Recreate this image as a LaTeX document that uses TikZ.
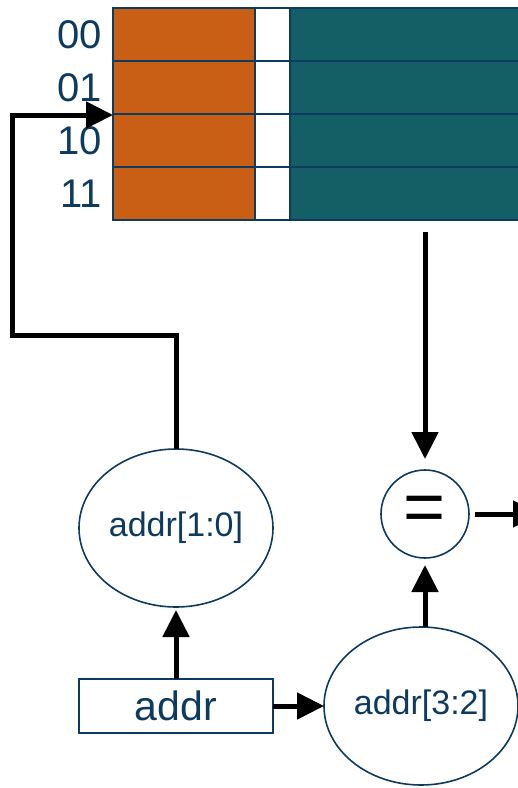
\documentclass[tikz,border=0pt]{standalone}
\usepackage{fontspec}
\setmainfont{Liberation Sans}
\usetikzlibrary{arrows.meta, shapes.geometric}
\definecolor{tagorange}{HTML}{C95E15}
\definecolor{datateal}{HTML}{145E66}
\definecolor{navy}{HTML}{0D3A5F}

\begin{document}
\begin{tikzpicture}[
    x=1pt, y=-1pt,
    cell_style/.style={draw=navy, line width=2pt},
    index_style/.style={anchor=east, inner sep=0pt, text=navy, font=\fontsize{40}{44}\selectfont},
    field_style/.style={ellipse, draw=navy, line width=1.6pt, minimum width=194pt, minimum height=158pt, inner sep=0pt, outer sep=0pt, text=navy, font=\fontsize{34}{40}\selectfont},
    addr_style/.style={rectangle, draw=navy, line width=1.6pt, minimum width=194pt, minimum height=54pt, inner sep=0pt, outer sep=0pt, text=navy, font=\fontsize{41}{44}\selectfont},
    cmp_style/.style={circle, draw=navy, line width=1.6pt, minimum size=88pt, inner sep=0pt, outer sep=0pt, font=\fontsize{72}{72}\selectfont},
    wire/.style={draw, line width=5pt, black, -{Triangle[length=27pt, width=26pt]}}
]
  \useasboundingbox (0,0) rectangle (518,788);
  % Cache lines: tag, valid bit, data
  \foreach \lbl [count=\r from 0] in {00,01,10,11} {
    \pgfmathsetmacro{\top}{8+53*\r}
    \fill[tagorange] (113,\top) rectangle (255,\top+53);
    \fill[white] (255,\top) rectangle (290,\top+53);
    \fill[datateal] (290,\top) rectangle (540,\top+53);
    \draw[cell_style] (113,\top) rectangle (255,\top+53);
    \draw[cell_style] (255,\top) rectangle (290,\top+53);
    \draw[cell_style] (290,\top) rectangle (540,\top+53);
    \node[index_style] (idx-\lbl) at (102,\top+27) {\lbl};
  }
  \coordinate (row_sel) at (113,115);
  \coordinate (tag_out) at (425,232);
  \coordinate (hit_out) at (540,514);

  % Address fields and comparator
  \node[addr_style] (addr) at (176,706) {addr};
  \node[field_style] (addrlow) at (176,528) {addr[1:0]};
  \node[field_style] (addrhigh) at (421,706) {addr[3:2]};
  \node[cmp_style] (eq) at (425,514) {=};

  % Wires
  \draw[wire, shorten >=3pt] (addr.north) -- (addrlow.south);
  \draw[wire] (addr.east) -- (addrhigh.west);
  \draw[wire, shorten >=7pt] ([xshift=4pt]addrhigh.north) -- (eq.south);
  \draw[wire, shorten >=11pt] (tag_out) -- (eq.north);
  \draw[wire] ([xshift=6pt]eq.east) -- (hit_out);
  \draw[wire] (addrlow.north) |- (12,335) |- (row_sel);
\end{tikzpicture}
\end{document}
